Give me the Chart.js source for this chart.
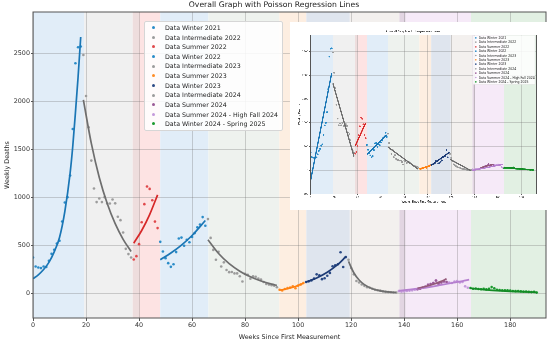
<!DOCTYPE html>
<html>
<head>
<meta charset="utf-8">
<script src="https://cdn.jsdelivr.net/npm/chart.js@4.4.1/dist/chart.umd.min.js"></script>
<style>
  html, body { margin: 0; padding: 0; background: #fff; }
  #wrap { position: relative; width: 550px; height: 341px; overflow: hidden; font-family: 'DejaVu Sans', sans-serif; }
  #main { position: absolute; left: 0; top: 0; }
  .legend { position: absolute; box-sizing: border-box; background: rgba(255,255,255,0.85); border: 1px solid #d6d6d6; border-radius: 2px; color: #222; }
  .legend div { position: relative; white-space: nowrap; }
  .legend span { position: absolute; border-radius: 50%; }
  #inset { position: absolute; left: 290px; top: 22px; width: 771px; height: 564px; background: #fff; transform: scale(0.3333); transform-origin: 0 0; }
  #insetCanvas { position: absolute; left: 0; top: 0; }
</style>
</head>
<body>
<div id="wrap">
  <canvas id="main" width="550" height="341"></canvas>
  <div id="mainLegend" class="legend"></div>
  <div id="inset">
    <canvas id="insetCanvas" width="771" height="564"></canvas>
    <div id="insetLegend" class="legend"></div>
  </div>
</div>
<script>
// series names, in legend order
const labels = [
  'Data Winter 2021', 'Data Intermediate 2022', 'Data Summer 2022', 'Data Winter 2022',
  'Data Intermediate 2023', 'Data Summer 2023', 'Data Winter 2023', 'Data Intermediate 2024',
  'Data Summer 2024', 'Data Summer 2024 - High Fall 2024', 'Data Winter 2024 - Spring 2025'
];

// tick values
const xTicks = [0, 20, 40, 60, 80, 100, 120, 140, 160, 180];
const yTicks = [0, 500, 1000, 1500, 2000, 2500];
const insetYTicks = [-500, 0, 500, 1000, 1500, 2000, 2500];

// first week of each series (weeks since first measurement)
const firstWeek = [0, 19, 38, 48, 66, 93, 103, 119, 145, 138, 165];

// weekly deaths, one value per week
const deathsW21 = [370, 277, 267, 260, 277, 271, 336, 409, 451, 517, 545, 746, 944, 1000, 1225, 1711, 2396, 2562, 2570];
const deathsI22 = [2482, 2055, 1729, 1381, 1090, 948, 985, 948, 1000, 933, 933, 975, 935, 795, 760, 631, 461, 406, 371];
const deathsS22 = [350, 385, 510, 738, 927, 1111, 1086, 968, 745, 677];
const deathsW22 = [534, 433, 364, 312, 273, 300, 427, 568, 578, 493, 555, 530, 585, 625, 685, 715, 792, 702];
const deathsI23 = [771, 575, 450, 347, 430, 277, 320, 240, 218, 220, 205, 205, 175, 121, 200, 190, 150, 175, 170, 150, 140, 115, 95, 88, 82, 76, 60];
const deathsS23 = [34, 26, 42, 52, 58, 70, 50, 76, 88, 105];
const deathsW23 = [115, 122, 132, 150, 195, 185, 145, 155, 180, 210, 280, 290, 300, 425, 272, 375];
const deathsI24 = [347, 260, 195, 125, 110, 90, 75, 60, 55, 45, 35, 30, 25, 18, 12, 10, 8, 6, 5];
const deathsS24 = [40, 45, 55, 65, 85, 95, 105, 130, 95, 110, 120, 115];
const deathsSF24 = [20, 15, 18, 22, 25, 28, 35, 40, 45, 55, 65, 85, 95, 105, 130, 95, 110, 120, 115, 110, 105, 120, 125, 110, 115, 70, 55];
const deathsW24 = [52, 45, 48, 42, 40, 44, 38, 45, 62, 50, 35, 32, 30, 28, 30, 25, 22, 20, 22, 18, 15, 16, 12, 10, 12, 5];
const seriesDeaths = [deathsW21, deathsI22, deathsS22, deathsW22, deathsI23, deathsS23, deathsW23, deathsI24, deathsS24, deathsSF24, deathsW24];

// Poisson regression curves of the main plot, [week, deaths]
const fitW21 = [[0, 150], [2, 190], [4, 245], [6, 320], [8, 430], [10, 580], [12, 850], [14, 1250], [15, 1530], [16, 1880], [17, 2250], [18, 2670]];
const fitI22 = [[19, 2014], [22, 1560], [25, 1205], [28, 934], [31, 723], [34, 560], [37, 433]];
const fitS22 = [[38, 520], [41, 652], [44, 818], [47, 1024]];
const fitW22 = [[48, 347], [52, 417], [56, 500], [60, 600], [65, 756]];
const fitI23 = [[66, 555], [70, 412], [74, 306], [78, 228], [82, 169], [86, 126], [90, 93], [92, 80]];
const fitS23 = [[93, 30], [96, 45], [99, 68], [102, 103]];
const fitW23 = [[103, 115], [107, 158], [111, 217], [115, 298], [118, 380]];
const fitI24 = [[119, 330], [121, 212], [123, 136], [125, 88], [128, 45], [131, 23], [134, 12], [137, 6]];
const fitS24 = [[145, 50], [148, 68], [151, 92], [154, 122], [156, 148]];
const fitSF24 = [[138, 25], [142, 35], [146, 48], [150, 65], [154, 85], [158, 105], [162, 125], [164.5, 140]];
const fitW24 = [[165, 50], [170, 36], [175, 26], [180, 18], [185, 12], [190, 8]];
const mainFits = [fitW21, fitI22, fitS22, fitW22, fitI23, fitS23, fitW23, fitI24, fitS24, fitSF24, fitW24];

// straight regression lines of the small inset graph
const insetW21 = [[0, -205], [18, 2050]];
const insetI22 = [[19, 1830], [37, 290]];
const insetS22 = [[38, 510], [47, 1000]];
const insetW22 = [[48, 335], [65, 745]];
const insetI23 = [[66, 490], [92, 20]];
const insetS23 = [[93, 25], [102, 95]];
const insetW23 = [[103, 105], [118, 370]];
const insetI24 = [[119, 230], [137, -10]];
const insetS24 = [[145, 55], [156, 125]];
const insetSF24 = [[138, -5], [164, 125]];
const insetW24 = [[165, 63], [190, 6]];
const insetFits = [insetW21, insetI22, insetS22, insetW22, insetI23, insetS23, insetW23, insetI24, insetS24, insetSF24, insetW24];

// shaded season periods (week edges) and their fills
const bandEdges = [0, 19.3, 37.6, 40, 48, 66.2, 92.9, 103.1, 119.5, 138.2, 140.6, 165.2, 200];
const bandColors = ['#e1edf8', '#f0f0f0', '#eedddd', '#fde3e3', '#e1edf8', '#eef2ee', '#fdeee1', '#dfe5ee', '#f3f0ee', '#e2d5e2', '#f6eaf8', '#e2f0e3'];

const lineColors = ['#1a76b5', '#6e6e6e', '#d62728', '#1a76b5', '#6e6e6e', '#ff7f0e', '#1c3a75', '#6e6e6e', '#94597a', '#b57fcf', '#138a25'];
const pointColors = ['#2a8cc8', '#9c9c9c', '#e0474a', '#2a8cc8', '#9c9c9c', '#ff8c26', '#2b4a85', '#9c9c9c', '#9a5a96', '#c49adb', '#1a9a2e'];

const FONT = "'DejaVu Sans', sans-serif";

const bandPlugin = {
  id: 'bands',
  beforeDraw(chart) {
    const {ctx, chartArea: a, scales: {x}} = chart;
    ctx.save();
    bandColors.forEach((c, i) => {
      const x0 = Math.max(a.left, x.getPixelForValue(bandEdges[i]));
      const x1 = Math.min(a.right, x.getPixelForValue(bandEdges[i + 1]));
      if (x1 > x0) {
        ctx.fillStyle = c;
        ctx.fillRect(x0, a.top, x1 - x0, a.bottom - a.top);
      }
    });
    ctx.restore();
  },
  afterDatasetsDraw(chart, args, opts) {
    const {ctx, chartArea: a} = chart;
    ctx.save();
    ctx.strokeStyle = '#555';
    ctx.lineWidth = opts.frame || 1;
    ctx.strokeRect(a.left, a.top, a.right - a.left, a.bottom - a.top);
    ctx.restore();
  }
};

function makeChart(id, o) {
  const datasets = [];
  o.fits.forEach((f, i) => datasets.push({
    type: 'line',
    data: f.map(p => ({x: p[0], y: p[1]})),
    borderColor: lineColors[i],
    borderWidth: o.lineWidth,
    pointRadius: 0,
    fill: false,
    cubicInterpolationMode: 'monotone'
  }));
  seriesDeaths.forEach((arr, i) => datasets.push({
    type: 'scatter',
    data: arr.map((v, k) => ({x: firstWeek[i] + k, y: v})),
    backgroundColor: pointColors[i],
    borderWidth: 0,
    pointRadius: o.pointRadius
  }));

  const tickFont = {family: FONT, size: o.tickSize};
  const gridOpts = {color: 'rgba(110,110,110,0.3)', lineWidth: o.gridWidth, tickColor: '#555', tickLength: o.tickLen};

  return new Chart(document.getElementById(id), {
    type: 'scatter',
    data: {datasets},
    options: {
      responsive: false,
      animation: false,
      devicePixelRatio: 1,
      events: [],
      layout: {padding: o.pad},
      plugins: {
        legend: {display: false},
        tooltip: {enabled: false},
        bands: {frame: o.frame},
        title: {
          display: true,
          text: o.title,
          color: '#222',
          font: {family: FONT, size: o.titleSize, weight: 'normal'},
          padding: o.titlePad
        }
      },
      scales: {
        x: {
          type: 'linear',
          min: o.xMin, max: o.xMax,
          afterBuildTicks: s => { s.ticks = xTicks.map(v => ({value: v})); },
          ticks: {font: tickFont, color: o.tickColor, padding: o.xTickPad, maxRotation: 0, autoSkip: false,
                  callback: v => String(v)},
          grid: gridOpts,
          border: {display: false},
          title: {display: true, text: 'Weeks Since First Measurement', color: '#222',
                  font: {family: FONT, size: o.labelSize}, padding: {top: 0, bottom: o.xTitlePad}},
          afterFit: s => { s.height = o.xAxisH; }
        },
        y: {
          min: o.yMin, max: o.yMax,
          afterBuildTicks: s => { s.ticks = o.yTicks.map(v => ({value: v})); },
          ticks: {font: tickFont, color: o.tickColor, padding: o.yTickPad, autoSkip: false,
                  callback: v => String(v)},
          grid: {...gridOpts, tickLength: o.yTickLen},
          border: {display: false},
          title: {display: true, text: 'Weekly Deaths', color: '#222',
                  font: {family: FONT, size: o.labelSize}, padding: {top: o.yTitlePad, bottom: 0}},
          afterFit: s => { s.width = o.yAxisW; }
        }
      }
    },
    plugins: [bandPlugin]
  });
}

function makeLegend(id, o) {
  const box = document.getElementById(id);
  Object.assign(box.style, {
    left: o.left + 'px', top: o.top + 'px', width: o.width + 'px',
    padding: o.padY + 'px 0', fontSize: o.fontSize + 'px', lineHeight: o.row + 'px'
  });
  labels.forEach((name, i) => {
    const item = document.createElement('div');
    item.style.paddingLeft = o.textX + 'px';
    item.textContent = name;
    const dot = document.createElement('span');
    Object.assign(dot.style, {
      left: (o.dotX - o.dot / 2) + 'px', top: ((o.row - o.dot) / 2) + 'px',
      width: o.dot + 'px', height: o.dot + 'px', background: pointColors[i]
    });
    item.appendChild(dot);
    box.appendChild(item);
  });
}

makeChart('main', {
  fits: mainFits, yTicks: yTicks,
  title: 'Overall Graph with Poisson Regression Lines',
  titleSize: 7.7, titlePad: {top: 0.6, bottom: 2.16},
  tickSize: 6.4, labelSize: 6.4, tickColor: '#333',
  pad: {left: 0, right: 2, top: 0, bottom: 0},
  xMin: 0, xMax: 193.5, yMin: -260, yMax: 2930,
  xAxisH: 23, yAxisW: 33,
  tickLen: 3, yTickLen: 2, xTickPad: 1, yTickPad: 1,
  xTitlePad: 0, yTitlePad: 3.2,
  lineWidth: 1.7, pointRadius: 1.3, gridWidth: 1, frame: 1
});

makeChart('insetCanvas', {
  fits: insetFits, yTicks: insetYTicks,
  title: 'Overall Graph with Regression Lines',
  titleSize: 9, titlePad: {top: 23.6, bottom: 4.6},
  tickSize: 7.4, labelSize: 8.4, tickColor: '#222',
  pad: {left: 0, right: 31, top: 0, bottom: 0},
  xMin: 0, xMax: 193, yMin: -500, yMax: 2850,
  xAxisH: 48, yAxisW: 62,
  tickLen: 4, yTickLen: 4, xTickPad: 2, yTickPad: 3,
  xTitlePad: 19, yTitlePad: 24,
  lineWidth: 4, pointRadius: 2.6, gridWidth: 2, frame: 2
});

makeLegend('mainLegend', {left: 144, top: 21, width: 139, padY: 0.9, fontSize: 6.3, row: 9.63, textX: 20, dotX: 8, dot: 3});
makeLegend('insetLegend', {left: 548, top: 39, width: 188, padY: 1, fontSize: 9.4, row: 13.2, textX: 17, dotX: 8, dot: 5});
</script>
</body>
</html>
